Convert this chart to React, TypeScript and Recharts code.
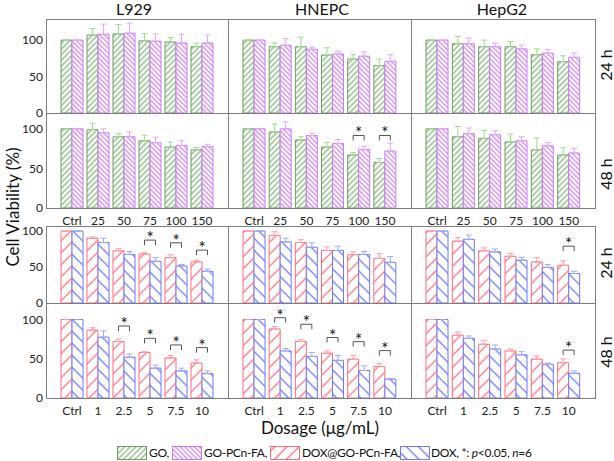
import React from 'react';
import { BarChart, Bar, XAxis, YAxis, ErrorBar, LabelList } from 'recharts';

const FONT = 'Lato, "Open Sans", sans-serif';

// dosage categories
const dosesCarrier = ['Ctrl', '25', '50', '75', '100', '150'];
const dosesDox = ['Ctrl', '1', '2.5', '5', '7.5', '10'];

// 24 h, GO vs GO-PCn-FA
const l929Go24 = [100, 107, 108.5, 99, 97.5, 91];
const l929Go24Err = [0, 9, 13, 10, 6, 5];
const l929Pcn24 = [100, 108, 109.5, 98.5, 96, 96];
const l929Pcn24Err = [0, 14, 14, 10, 12, 11];
const hnepcGo24 = [100, 91, 91, 79.5, 74, 65];
const hnepcGo24Err = [0, 5, 13, 10, 6, 9];
const hnepcPcn24 = [100, 93, 87.5, 81, 78, 71];
const hnepcPcn24Err = [0, 9, 3, 4, 6, 9];
const hepg2Go24 = [100, 95, 91, 91, 80, 70.5];
const hepg2Go24Err = [0, 10, 9, 7, 8, 8];
const hepg2Pcn24 = [100, 95, 91, 88, 82, 76.5];
const hepg2Pcn24Err = [0, 8, 5, 5, 5, 6];

// 48 h, GO vs GO-PCn-FA
const l929Go48 = [100, 99, 90, 85, 77, 73.5];
const l929Go48Err = [0, 8, 4, 7, 6, 3];
const l929Pcn48 = [100, 95, 90, 82.5, 79, 77.5];
const l929Pcn48Err = [0, 5, 6, 7, 6, 3];
const hnepcGo48 = [100, 96, 86, 77, 67, 57.5];
const hnepcGo48Err = [0, 10, 4, 6, 3, 5];
const hnepcPcn48 = [100, 100, 91.5, 81.5, 74, 72];
const hnepcPcn48Err = [0, 9, 3, 5, 4, 10];
const hnepcSig48 = [null, null, null, null, 91.6, 91.6];
const hepg2Go48 = [100, 90, 88, 83.5, 73.5, 67];
const hepg2Go48Err = [0, 13, 10, 10, 15, 9];
const hepg2Pcn48 = [100, 94, 92.5, 85, 78.5, 69.5];
const hepg2Pcn48Err = [0, 7, 5, 5, 4, 6];

// 24 h, DOX@GO-PCn-FA vs DOX
const l929DoxGo24 = [100, 90, 72.5, 68, 63, 57];
const l929DoxGo24Err = [0, 2, 3, 2, 4, 2];
const l929Dox24 = [100, 84, 67.5, 58, 51.5, 44];
const l929Dox24Err = [0, 6, 4, 5, 2, 3];
const l929Sig24 = [null, null, null, 87.4, 83.7, 73.5];
const hnepcDoxGo24 = [100, 94, 84, 73, 67, 62];
const hnepcDoxGo24Err = [0, 5, 4, 5, 4, 7];
const hnepcDox24 = [100, 85, 77.5, 73, 67.5, 56.5];
const hnepcDox24Err = [0, 5, 6, 6, 4, 8];
const hepg2DoxGo24 = [100, 86, 72.5, 65, 57, 52.5];
const hepg2DoxGo24Err = [0, 5, 4, 4, 6, 6];
const hepg2Dox24 = [100, 88.5, 71, 59.5, 49.5, 41];
const hepg2Dox24Err = [0, 6, 4, 4, 4, 3];
const hepg2Sig24 = [null, null, null, null, null, 79];

// 48 h, DOX@GO-PCn-FA vs DOX
const l929DoxGo48 = [100, 86.5, 72, 58, 51, 44.5];
const l929DoxGo48Err = [0, 3, 3, 1, 3, 4];
const l929Dox48 = [100, 77.5, 52, 38, 34.5, 31];
const l929Dox48Err = [0, 8, 4, 4, 3.5, 3.5];
const l929Sig48 = [null, null, 91.7, 76, 67.6, 64.2];
const hnepcDoxGo48 = [100, 88, 72, 57, 49.5, 40];
const hnepcDoxGo48Err = [0, 3, 2, 3, 5, 4];
const hnepcDox48 = [100, 60, 53, 48, 35, 24];
const hnepcDox48Err = [0, 3, 5, 6, 6, 1];
const hnepcSig48Dox = [null, 102.3, 93.9, 77, 71.8, 60.4];
const hepg2DoxGo48 = [100, 80, 68.5, 60, 49.5, 45];
const hepg2DoxGo48Err = [0, 4, 5, 2.5, 4, 5];
const hepg2Dox48 = [100, 76, 62.5, 55, 43, 31.5];
const hepg2Dox48Err = [0, 3, 5, 4, 1.5, 3];
const hepg2Sig48 = [null, null, null, null, null, 61];

const yTicks = [0, 50, 100];

const GO = { id: 'hGO', stroke: '#6f9b64', err: '#9fdc8f' };
const PCN = { id: 'hPCN', stroke: '#c97cf0', err: '#e2a8ff' };
const DOXGO = { id: 'hDOXGO', stroke: '#ff6c7c', err: '#ff9eaa' };
const DOX = { id: 'hDOX', stroke: '#6c79ff', err: '#a0aaff' };

const SigMark = (props: any) => {
  const { index, data } = props;
  const vb = props.viewBox && props.viewBox.width != null ? props.viewBox : props;
  const d = data[index];
  if (!d || d.s == null) return null;
  const x = vb.x;
  const w = Math.abs(vb.width);
  const h = Math.abs(vb.height);
  const bottom = Math.min(vb.y, vb.y + vb.height) + h;
  const py = bottom - (d.s * h) / d.b;
  const x1 = x - w / 2;
  const x2 = x + w / 2;
  return (
    <g>
      <path d={`M${x1},${py + 5}V${py}H${x2}V${py + 5}`} stroke="#555" fill="none" strokeWidth={1} />
      <text x={x} y={py + 4} textAnchor="middle" fontSize={17} fontFamily={FONT} fill="#111">*</text>
    </g>
  );
};

const Panel = (p: any) => {
  const { left, top, width, height, domain, cats, a, aErr, b, bErr, sig, pair, showY, showX } = p;
  // error bars are drawn upward only, like the original
  const data = cats.map((c: string, i: number) => ({
    c, a: a[i], ae: [0, aErr[i]], b: b[i], be: [0, bErr[i]], s: sig ? sig[i] : null,
  }));
  const yw = showY ? 40 : 0;
  const mt = 8;
  const mb = 8;
  const xh = showX ? 20 : 0;
  return (
    <>
      <div style={{ position: 'absolute', left: left - yw, top: top - mt }}>
        <BarChart
          width={width + yw}
          height={height + mt + mb + xh}
          data={data}
          margin={{ top: mt, right: 0, bottom: mb, left: 0 }}
          barGap={0}
          barSize={11}
        >
          <XAxis
            dataKey="c"
            hide={!showX}
            height={xh}
            padding={{ left: 13, right: 13 }}
            tickLine={false}
            axisLine={false}
            tickMargin={2}
            interval={0}
            tick={{ fontSize: 12, fill: '#222', fontFamily: FONT }}
          />
          <YAxis
            hide={!showY}
            width={yw}
            domain={domain}
            ticks={yTicks}
            allowDataOverflow
            tickLine={false}
            axisLine={false}
            tickSize={0}
            tickMargin={3}
            tick={{ fontSize: 12, fill: '#222', fontFamily: FONT }}
          />
          <Bar dataKey="a" fill={`url(#${pair[0].id})`} stroke={pair[0].stroke} isAnimationActive={false}>
            <ErrorBar dataKey="ae" width={3} stroke={pair[0].err} strokeWidth={1} direction="y" />
          </Bar>
          <Bar dataKey="b" fill={`url(#${pair[1].id})`} stroke={pair[1].stroke} isAnimationActive={false}>
            <ErrorBar dataKey="be" width={3} stroke={pair[1].err} strokeWidth={1} direction="y" />
            <LabelList dataKey="s" content={(lp: any) => <SigMark {...lp} data={data} />} />
          </Bar>
        </BarChart>
      </div>
      <div
        style={{
          position: 'absolute', left, top, width: width + 1, height: height + 1,
          border: '1px solid #7c7c7c', boxSizing: 'border-box', pointerEvents: 'none',
        }}
      />
    </>
  );
};

const cols = [
  { left: 46, width: 182 },
  { left: 228, width: 183 },
  { left: 411, width: 184 },
];
const rows = [
  { top: 19, height: 94, domain: [0, 129], cats: dosesCarrier, pair: [GO, PCN], showX: false },
  { top: 113, height: 95, domain: [0, 120], cats: dosesCarrier, pair: [GO, PCN], showX: true },
  { top: 226, height: 77, domain: [0, 107], cats: dosesDox, pair: [DOXGO, DOX], showX: false },
  { top: 303, height: 95, domain: [0, 121], cats: dosesDox, pair: [DOXGO, DOX], showX: true },
];
const cells = [
  [
    [l929Go24, l929Go24Err, l929Pcn24, l929Pcn24Err, null],
    [hnepcGo24, hnepcGo24Err, hnepcPcn24, hnepcPcn24Err, null],
    [hepg2Go24, hepg2Go24Err, hepg2Pcn24, hepg2Pcn24Err, null],
  ],
  [
    [l929Go48, l929Go48Err, l929Pcn48, l929Pcn48Err, null],
    [hnepcGo48, hnepcGo48Err, hnepcPcn48, hnepcPcn48Err, hnepcSig48],
    [hepg2Go48, hepg2Go48Err, hepg2Pcn48, hepg2Pcn48Err, null],
  ],
  [
    [l929DoxGo24, l929DoxGo24Err, l929Dox24, l929Dox24Err, l929Sig24],
    [hnepcDoxGo24, hnepcDoxGo24Err, hnepcDox24, hnepcDox24Err, null],
    [hepg2DoxGo24, hepg2DoxGo24Err, hepg2Dox24, hepg2Dox24Err, hepg2Sig24],
  ],
  [
    [l929DoxGo48, l929DoxGo48Err, l929Dox48, l929Dox48Err, l929Sig48],
    [hnepcDoxGo48, hnepcDoxGo48Err, hnepcDox48, hnepcDox48Err, hnepcSig48Dox],
    [hepg2DoxGo48, hepg2DoxGo48Err, hepg2Dox48, hepg2Dox48Err, hepg2Sig48],
  ],
];

const titles = [
  { text: 'L929', x: 134 },
  { text: 'HNEPC', x: 322 },
  { text: 'HepG2', x: 502 },
];
const timeLabels = [
  { text: '24 h', y: 65 },
  { text: '48 h', y: 174 },
  { text: '24 h', y: 263 },
  { text: '48 h', y: 352 },
];

const Swatch = ({ s, x }: any) => (
  <svg width={30} height={14} style={{ position: 'absolute', left: x, top: 446 }}>
    <rect x={0.5} y={0.5} width={29} height={13} fill={`url(#${s.id})`} stroke={s.stroke} />
  </svg>
);

const legendItems = [
  { s: GO, x: 117, tx: 149, label: <>GO,</> },
  { s: PCN, x: 172, tx: 204, label: <>GO-PCn-FA,</> },
  { s: DOXGO, x: 270, tx: 302, label: <>DOX@GO-PCn-FA,</> },
  { s: DOX, x: 400, tx: 431, label: <>DOX, *: <i>p</i>&lt;0.05, <i>n</i>=6</> },
];

export default function App() {
  return (
    <div style={{ position: 'absolute', left: 0, top: 0, width: 614, height: 461, background: '#fff', fontFamily: FONT, color: '#111', overflow: 'hidden' }}>
      <svg width={0} height={0} style={{ position: 'absolute' }}>
        <defs>
          <pattern id="hGO" patternUnits="userSpaceOnUse" width={4} height={4} patternTransform="rotate(45)">
            <rect width={4} height={4} fill="#fff" />
            <line x1={2} y1={0} x2={2} y2={4} stroke="#5f9f50" strokeWidth={1} />
          </pattern>
          <pattern id="hPCN" patternUnits="userSpaceOnUse" width={3.4} height={3.4} patternTransform="rotate(-45)">
            <rect width={3.4} height={3.4} fill="#fff" />
            <line x1={1.7} y1={0} x2={1.7} y2={3.4} stroke="#c466f2" strokeWidth={1} />
          </pattern>
          <pattern id="hDOXGO" patternUnits="userSpaceOnUse" width={8.5} height={8.5} patternTransform="rotate(45)">
            <rect width={8.5} height={8.5} fill="#fff" />
            <line x1={4} y1={0} x2={4} y2={8.5} stroke="#ff5c70" strokeWidth={1.1} />
          </pattern>
          <pattern id="hDOX" patternUnits="userSpaceOnUse" width={8.5} height={8.5} patternTransform="rotate(-45)">
            <rect width={8.5} height={8.5} fill="#fff" />
            <line x1={4} y1={0} x2={4} y2={8.5} stroke="#5c6cff" strokeWidth={1.1} />
          </pattern>
        </defs>
      </svg>

      {rows.map((r, ri) =>
        cols.map((c, ci) => {
          const [a, ae, b, be, sig] = cells[ri][ci] as any;
          return (
            <Panel
              key={`${ri}-${ci}`}
              left={c.left}
              width={c.width}
              top={r.top}
              height={r.height}
              domain={r.domain}
              cats={r.cats}
              pair={r.pair}
              showX={r.showX}
              showY={ci === 0}
              a={a}
              aErr={ae}
              b={b}
              bErr={be}
              sig={sig}
            />
          );
        })
      )}

      {titles.map((t) => (
        <div key={t.text} style={{ position: 'absolute', left: t.x - 50, width: 100, top: 0, textAlign: 'center', fontSize: 16, lineHeight: '18px' }}>
          {t.text}
        </div>
      ))}

      {timeLabels.map((t, i) => (
        <div key={i} style={{ position: 'absolute', left: 606 - 30, top: t.y - 10, width: 60, height: 20, lineHeight: '20px', textAlign: 'center', fontSize: 16, transform: 'rotate(-90deg)' }}>
          {t.text}
        </div>
      ))}

      <div style={{ position: 'absolute', left: 13 - 90, top: 207 - 11, width: 180, height: 22, lineHeight: '22px', textAlign: 'center', fontSize: 17, transform: 'rotate(-90deg)' }}>
        Cell Viability (%)
      </div>

      <div style={{ position: 'absolute', left: 220, width: 200, top: 419, textAlign: 'center', fontSize: 17, lineHeight: '18px' }}>
        Dosage (μg/mL)
      </div>

      {legendItems.map((it, i) => (
        <React.Fragment key={i}>
          <Swatch s={it.s} x={it.x} />
          <div style={{ position: 'absolute', left: it.tx, top: 445, fontSize: 12, lineHeight: '15px', letterSpacing: -0.3, whiteSpace: 'nowrap' }}>
            {it.label}
          </div>
        </React.Fragment>
      ))}
    </div>
  );
}
